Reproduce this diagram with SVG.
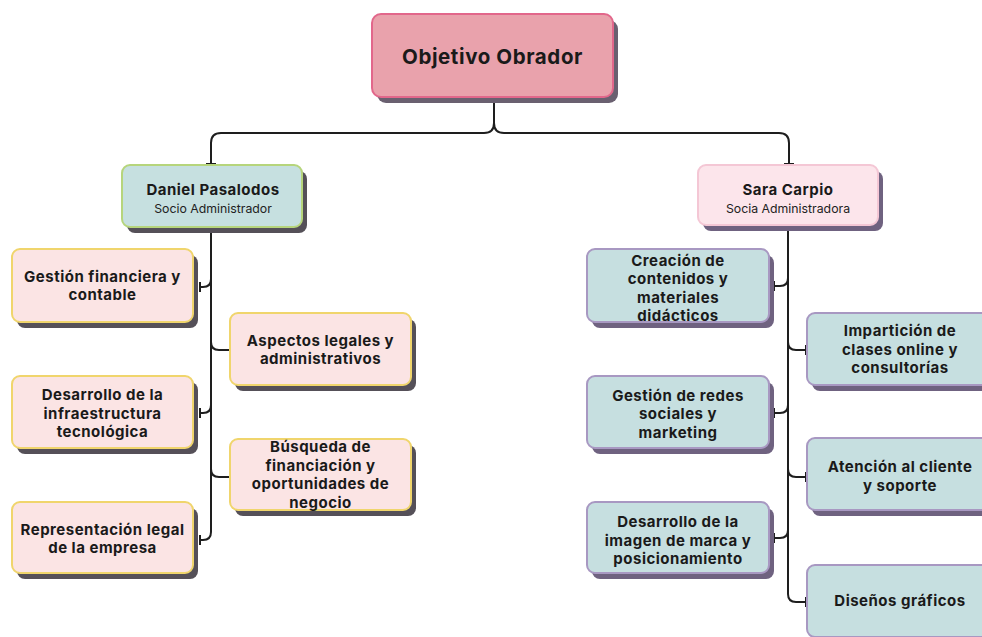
<svg xmlns="http://www.w3.org/2000/svg" width="982" height="637" viewBox="0 0 982 637">
<style>
.t{font-family:Inter,"Liberation Sans",sans-serif;font-weight:700;font-size:15px;letter-spacing:0.5px;fill:#1a1a1a;text-anchor:middle}
.s{font-family:Inter,"Liberation Sans",sans-serif;font-weight:400;font-size:12.3px;fill:#222;text-anchor:middle}
.root{fill:#e9a2ac;stroke:#e2678b;stroke-width:2}
.rootsh{fill:#6a6070}
.dan{fill:#c6e0e0;stroke:#b6d57c;stroke-width:2}
.sara{fill:#fce5eb;stroke:#f4c7d5;stroke-width:2}
.dsh{fill:#555058}
.ssh{fill:#6f6280}
.yc{fill:#fbe4e4;stroke:#f0d56c;stroke-width:2}
.pc{fill:#c6dfe0;stroke:#a898c2;stroke-width:2}
.con{fill:none;stroke:#1e1e1e;stroke-width:2}
</style>
<defs>
<marker id="tee" markerWidth="4" markerHeight="10" refX="2" refY="5" orient="auto" markerUnits="userSpaceOnUse">
<path d="M2,0 V10" stroke="#1e1e1e" stroke-width="2"/>
</marker>
</defs>
<rect width="982" height="637" fill="#ffffff"/>

<g id="connectors" class="con" marker-end="url(#tee)">
<path d="M494,103 V123 Q494,133 484,133 H221 Q211,133 211,143 V164"/>
<path d="M494,103 V123 Q494,133 504,133 H779 Q789,133 789,143 V164"/>
<path d="M211,232 V279 Q211,287 203,287 H200"/>
<path d="M211,232 V342 Q211,350 219,350 H230"/>
<path d="M211,232 V405 Q211,413 203,413 H200"/>
<path d="M211,232 V469 Q211,477 219,477 H230"/>
<path d="M211,232 V532 Q211,540 203,540 H200"/>
<path d="M788,230 V278 Q788,286 780,286 H774"/>
<path d="M788,230 V342 Q788,350 796,350 H806"/>
<path d="M788,230 V405 Q788,413 780,413 H774"/>
<path d="M788,230 V469 Q788,477 796,477 H806"/>
<path d="M788,230 V530 Q788,538 780,538 H774"/>
<path d="M788,230 V594 Q788,602 796,602 H806"/>
</g>

<g id="root">
<rect class="rootsh" x="377" y="20" width="241" height="83" rx="9"/>
<rect class="root" x="372" y="14" width="241" height="83" rx="9"/>
<text class="t" x="492.5" y="64" style="font-size:20.5px;letter-spacing:0.6px">Objetivo Obrador</text>
</g>

<g id="daniel">
<rect class="dsh" x="127" y="171" width="180" height="62" rx="8"/>
<rect class="dan" x="122" y="165" width="180" height="62" rx="8"/>
<text class="t" x="213" y="195">Daniel Pasalodos</text>
<text class="s" x="213" y="213">Socio Administrador</text>
</g>

<g id="sara">
<rect class="ssh" x="703" y="171" width="180" height="60" rx="8"/>
<rect class="sara" x="698" y="165" width="180" height="60" rx="8"/>
<text class="t" x="788" y="195">Sara Carpio</text>
<text class="s" x="788" y="213">Socia Administradora</text>
</g>

<g id="gestion-financiera">
<rect class="dsh" x="17" y="255" width="181" height="73" rx="8"/>
<rect class="yc" x="12" y="249" width="181" height="73" rx="8"/>
<text class="t" x="102.5" y="282">Gestión financiera y</text>
<text class="t" x="102.5" y="300">contable</text>
</g>

<g id="aspectos-legales">
<rect class="dsh" x="235" y="319" width="181" height="72" rx="8"/>
<rect class="yc" x="230" y="313" width="181" height="72" rx="8"/>
<text class="t" x="320.5" y="346">Aspectos legales y</text>
<text class="t" x="320.5" y="364">administrativos</text>
</g>

<g id="desarrollo-infra">
<rect class="dsh" x="17" y="382" width="181" height="72" rx="8"/>
<rect class="yc" x="12" y="376" width="181" height="72" rx="8"/>
<text class="t" x="102.5" y="400">Desarrollo de la</text>
<text class="t" x="102.5" y="419">infraestructura</text>
<text class="t" x="102.5" y="437">tecnológica</text>
</g>

<g id="busqueda">
<rect class="dsh" x="235" y="445" width="181" height="71" rx="8"/>
<rect class="yc" x="230" y="439" width="181" height="71" rx="8"/>
<text class="t" x="320.5" y="452">Búsqueda de</text>
<text class="t" x="320.5" y="471">financiación y</text>
<text class="t" x="320.5" y="489">oportunidades de</text>
<text class="t" x="320.5" y="508">negocio</text>
</g>

<g id="representacion">
<rect class="dsh" x="17" y="508" width="181" height="71" rx="8"/>
<rect class="yc" x="12" y="502" width="181" height="71" rx="8"/>
<text class="t" x="102.5" y="535">Representación legal</text>
<text class="t" x="102.5" y="553">de la empresa</text>
</g>

<g id="creacion">
<rect class="ssh" x="592" y="255" width="182" height="73" rx="8"/>
<rect class="pc" x="587" y="249" width="182" height="73" rx="8"/>
<text class="t" x="678" y="266">Creación de</text>
<text class="t" x="678" y="284">contenidos y</text>
<text class="t" x="678" y="303">materiales</text>
<text class="t" x="678" y="321">didácticos</text>
</g>

<g id="imparticion">
<rect class="ssh" x="812" y="319" width="186" height="72" rx="8"/>
<rect class="pc" x="807" y="313" width="186" height="72" rx="8"/>
<text class="t" x="900" y="336">Impartición de</text>
<text class="t" x="900" y="355">clases online y</text>
<text class="t" x="900" y="373">consultorías</text>
</g>

<g id="redes">
<rect class="ssh" x="592" y="382" width="182" height="72" rx="8"/>
<rect class="pc" x="587" y="376" width="182" height="72" rx="8"/>
<text class="t" x="678" y="401">Gestión de redes</text>
<text class="t" x="678" y="419">sociales y</text>
<text class="t" x="678" y="438">marketing</text>
</g>

<g id="atencion">
<rect class="ssh" x="812" y="444" width="186" height="72" rx="8"/>
<rect class="pc" x="807" y="438" width="186" height="72" rx="8"/>
<text class="t" x="900" y="472">Atención al cliente</text>
<text class="t" x="900" y="491">y soporte</text>
</g>

<g id="imagen-marca">
<rect class="ssh" x="592" y="508" width="182" height="71" rx="8"/>
<rect class="pc" x="587" y="502" width="182" height="71" rx="8"/>
<text class="t" x="678" y="527">Desarrollo de la</text>
<text class="t" x="678" y="546">imagen de marca y</text>
<text class="t" x="678" y="564">posicionamiento</text>
</g>

<g id="disenos">
<rect class="ssh" x="812" y="571" width="186" height="72" rx="8"/>
<rect class="pc" x="807" y="565" width="186" height="72" rx="8"/>
<text class="t" x="900" y="606">Diseños gráficos</text>
</g>
</svg>
